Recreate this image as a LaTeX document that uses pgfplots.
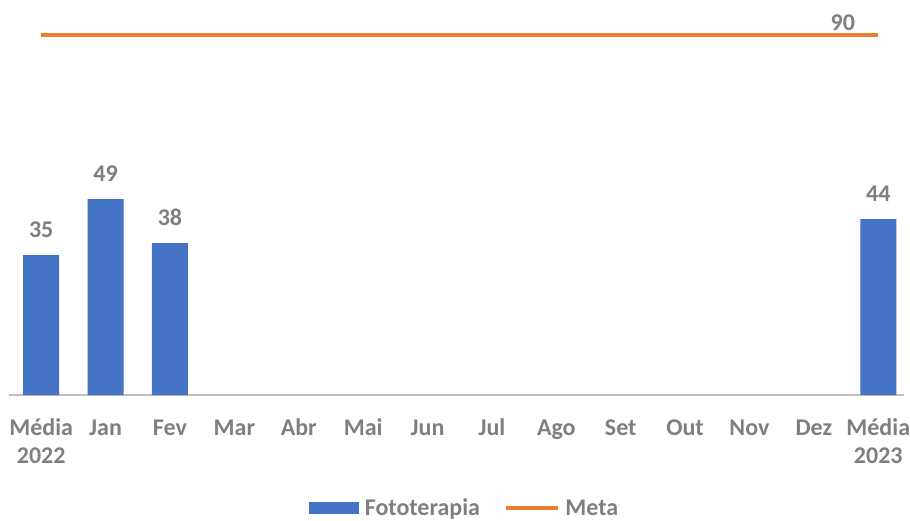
\documentclass[border=0pt]{standalone}
\usepackage{pgfplots}
\pgfplotsset{compat=1.18}
\usetikzlibrary{calc}
\usepackage{fontspec}
\setmainfont{Carlito}
\definecolor{barblue}{HTML}{4472C4}
\definecolor{metaorange}{HTML}{ED7D31}
\definecolor{lblgray}{HTML}{7F7F7F}
\definecolor{axgray}{HTML}{BFBFBF}
\newcommand{\lblfont}{\fontsize{24}{28}\selectfont\bfseries}
\begin{document}
\begin{tikzpicture}
\useasboundingbox (-9pt,-125pt) rectangle (901pt,395pt);
\begin{axis}[
  at={(0pt,0pt)}, anchor=south west,
  scale only axis, width=895pt, height=360pt,
  xmin=-0.5, xmax=13.4, ymin=0, ymax=90,
  axis x line=bottom, axis y line=none,
  x axis line style={draw=axgray, line width=1.2pt, -},
  xtick={0,...,13},
  xticklabels={{Média\\2022},Jan,Fev,Mar,Abr,Mai,Jun,Jul,Ago,Set,Out,Nov,Dez,{Média\\2023}},
  ytick=\empty,
  major tick length=0pt,
  typeset ticklabels with strut,
  xticklabel style={font=\lblfont, text=lblgray, align=center, anchor=north, yshift=-17.5pt},
  clip=false,
  legend columns=2,
  legend style={at={(0.509,-0.314)}, anchor=center, draw=none, fill=none,
    font=\lblfont, text=lblgray,
    /tikz/every odd column/.append style={column sep=4pt},
    /tikz/every even column/.append style={column sep=22pt}},
]
\addplot[ybar, bar width=36pt, fill=barblue, draw=none,
  nodes near coords,
  nodes near coords style={font=\lblfont, text=lblgray, anchor=base, yshift=18pt,
    /pgf/number format/assume math mode=true},
  legend image code/.code={\fill[barblue] (0pt,-6pt) rectangle (50pt,6pt);}]
  coordinates {(0,35) (1,49) (2,38) (13,44)};
\addlegendentry{Fototerapia}
\addplot[metaorange, line width=3.5pt, mark=none,
  legend image code/.code={\draw[metaorange, line width=3.5pt] (0pt,0pt) -- (52pt,0pt);}]
  coordinates {(0,90) (13,90)};
\addlegendentry{Meta}
\node[font=\lblfont, text=lblgray, anchor=base east, inner sep=0pt] at ($(axis cs:13,90)+(-23pt,5pt)$) {90};
\end{axis}
\end{tikzpicture}
\end{document}
